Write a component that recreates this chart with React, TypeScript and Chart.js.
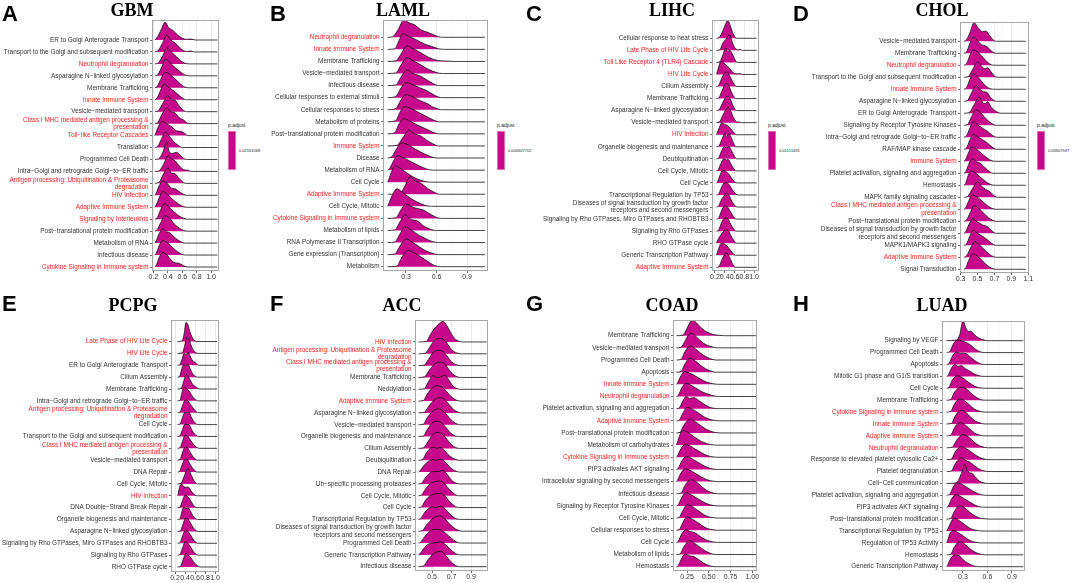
import React, { useEffect, useRef } from "react";
import { Chart, registerables } from "chart.js";
Chart.register(...registerables);

type Pt = [number, number];

// Terms printed in red in every panel
const immuneTerms = [
  "Neutrophil degranulation",
  "Innate Immune System",
  "Class I MHC mediated antigen processing &\npresentation",
  "Toll−like Receptor Cascades",
  "Antigen processing: Ubiquitination & Proteasome\ndegradation",
  "HIV Infection",
  "Adaptive Immune System",
  "Signaling by Interleukins",
  "Cytokine Signaling in Immune system",
  "Immune System",
  "Late Phase of HIV Life Cycle",
  "Toll Like Receptor 4 (TLR4) Cascade",
  "HIV Life Cycle",
];

// ---------------- A: GBM ----------------
const gbmTerms = [
  "ER to Golgi Anterograde Transport",
  "Transport to the Golgi and subsequent modification",
  "Neutrophil degranulation",
  "Asparagine N−linked glycosylation",
  "Membrane Trafficking",
  "Innate Immune System",
  "Vesicle−mediated transport",
  "Class I MHC mediated antigen processing &\npresentation",
  "Toll−like Receptor Cascades",
  "Translation",
  "Programmed Cell Death",
  "Intra−Golgi and retrograde Golgi−to−ER traffic",
  "Antigen processing: Ubiquitination & Proteasome\ndegradation",
  "HIV Infection",
  "Adaptive Immune System",
  "Signaling by Interleukins",
  "Post−translational protein modification",
  "Metabolism of RNA",
  "Infectious disease",
  "Cytokine Signaling in Immune system",
];
const gbmExtent = [0.22, 1.088];
const gbmTickLabels = ["0.2", "0.4", "0.6", "0.8", "1.0"];
const gbmPadj = "0.02101568";
const gbmRidges: Pt[][] = [
  [[0.26,0.3],[0.31,0.9],[0.36,1.5],[0.41,1.05],[0.47,0.8],[0.53,0.45],[0.6,0.15],[0.66,0.05],[0.72,0.08],[0.78,0]],
  [[0.27,0.15],[0.33,0.8],[0.385,1.4],[0.44,1.0],[0.5,0.75],[0.56,0.4],[0.62,0.1],[0.67,0.03],[0.72,0.08],[0.76,0]],
  [[0.27,0.1],[0.33,0.7],[0.385,1.35],[0.45,1.0],[0.52,0.6],[0.58,0.25],[0.64,0.05],[0.7,0]],
  [[0.26,0.1],[0.32,0.8],[0.37,1.4],[0.43,1.1],[0.5,0.7],[0.57,0.35],[0.63,0.1],[0.7,0]],
  [[0.25,0.1],[0.3,0.7],[0.36,1.3],[0.42,1.15],[0.5,0.75],[0.56,0.4],[0.62,0.1],[0.68,0]],
  [[0.25,0.15],[0.3,0.8],[0.345,1.3],[0.4,1.1],[0.47,0.8],[0.54,0.45],[0.6,0.15],[0.66,0]],
  [[0.27,0.1],[0.33,0.7],[0.4,1.35],[0.45,1.0],[0.5,0.95],[0.55,0.55],[0.6,0.2],[0.66,0]],
  [[0.26,0.1],[0.32,0.8],[0.38,1.3],[0.44,1.0],[0.5,0.9],[0.56,0.5],[0.62,0.3],[0.67,0.05],[0.72,0]],
  [[0.24,0.3],[0.28,0.9],[0.32,1.2],[0.38,1.0],[0.45,0.75],[0.52,0.4],[0.58,0.35],[0.63,0.2],[0.68,0]],
  [[0.26,0.1],[0.31,0.7],[0.37,1.3],[0.42,0.95],[0.48,0.5],[0.54,0.2],[0.6,0]],
  [[0.27,0.05],[0.33,0.6],[0.38,1.45],[0.42,0.65],[0.46,0.5],[0.52,0.6],[0.57,0.35],[0.63,0.05],[0.68,0]],
  [[0.28,0.05],[0.34,0.6],[0.4,1.3],[0.45,1.05],[0.5,0.9],[0.56,0.45],[0.62,0.15],[0.68,0.1],[0.72,0]],
  [[0.28,0.1],[0.34,0.8],[0.4,1.3],[0.45,0.85],[0.5,0.8],[0.55,0.45],[0.6,0.15],[0.65,0]],
  [[0.24,0.2],[0.28,0.8],[0.33,1.2],[0.39,1.0],[0.45,0.6],[0.5,0.55],[0.55,0.35],[0.61,0.1],[0.66,0]],
  [[0.24,0.2],[0.28,0.8],[0.33,1.3],[0.39,1.1],[0.46,0.7],[0.53,0.35],[0.6,0.1],[0.66,0]],
  [[0.25,0.1],[0.3,0.8],[0.35,1.3],[0.41,1.05],[0.48,0.65],[0.55,0.3],[0.62,0.08],[0.68,0]],
  [[0.25,0.1],[0.3,0.7],[0.36,1.3],[0.42,1.1],[0.49,0.6],[0.56,0.25],[0.62,0.05],[0.68,0]],
  [[0.24,0.2],[0.28,0.8],[0.33,1.2],[0.38,0.95],[0.43,0.85],[0.5,0.45],[0.57,0.15],[0.63,0]],
  [[0.24,0.15],[0.28,0.8],[0.33,1.2],[0.4,1.0],[0.47,0.6],[0.54,0.25],[0.6,0.05],[0.66,0]],
  [[0.24,0.15],[0.28,0.8],[0.33,1.2],[0.39,1.0],[0.45,0.55],[0.5,0.35],[0.56,0.3],[0.62,0.1],[0.68,0]],
];

// ---------------- B: LAML ----------------
const lamlTerms = [
  "Neutrophil degranulation",
  "Innate Immune System",
  "Membrane Trafficking",
  "Vesicle−mediated transport",
  "Infectious disease",
  "Cellular responses to external stimuli",
  "Cellular responses to stress",
  "Metabolism of proteins",
  "Post−translational protein modification",
  "Immune System",
  "Disease",
  "Metabolism of RNA",
  "Cell Cycle",
  "Adaptive Immune System",
  "Cell Cycle, Mitotic",
  "Cytokine Signaling in Immune system",
  "Metabolism of lipids",
  "RNA Polymerase II Transcription",
  "Gene expression (Transcription)",
  "Metabolism",
];
const lamlExtent = [0.12, 1.076];
const lamlTickLabels = ["0.3", "0.6", "0.9"];
const lamlPadj = "0.006607702";
const lamlRidges: Pt[][] = [
  [[0.17,0.05],[0.22,0.6],[0.28,1.45],[0.33,1.2],[0.38,1.05],[0.45,0.6],[0.5,0.45],[0.56,0.25],[0.62,0.05],[0.66,0]],
  [[0.19,0.05],[0.23,0.7],[0.27,1.3],[0.32,1.1],[0.4,0.8],[0.48,0.45],[0.55,0.25],[0.62,0.05],[0.68,0]],
  [[0.2,0.05],[0.25,0.6],[0.31,1.3],[0.37,1.05],[0.45,0.7],[0.52,0.35],[0.6,0.1],[0.7,0.03],[0.78,0]],
  [[0.2,0.05],[0.25,0.7],[0.31,1.3],[0.37,1.05],[0.45,0.7],[0.52,0.35],[0.6,0.08],[0.66,0]],
  [[0.2,0.05],[0.25,0.7],[0.31,1.3],[0.37,1.0],[0.44,0.8],[0.5,0.5],[0.56,0.2],[0.62,0]],
  [[0.2,0.1],[0.25,0.8],[0.3,1.25],[0.36,1.1],[0.44,0.8],[0.5,0.6],[0.56,0.3],[0.62,0.05],[0.66,0]],
  [[0.2,0.1],[0.25,0.8],[0.3,1.25],[0.36,1.1],[0.44,0.75],[0.5,0.55],[0.56,0.25],[0.62,0.05],[0.66,0]],
  [[0.2,0.1],[0.24,0.8],[0.29,1.25],[0.35,1.1],[0.43,0.75],[0.5,0.45],[0.57,0.15],[0.63,0]],
  [[0.19,0.1],[0.23,0.8],[0.28,1.25],[0.34,1.05],[0.42,0.7],[0.5,0.4],[0.57,0.12],[0.63,0]],
  [[0.21,0.05],[0.27,0.7],[0.33,1.3],[0.38,1.0],[0.44,0.85],[0.5,0.5],[0.56,0.2],[0.62,0]],
  [[0.16,0.1],[0.21,0.8],[0.26,1.25],[0.32,1.1],[0.4,0.7],[0.48,0.35],[0.55,0.1],[0.6,0]],
  [[0.14,0.15],[0.18,0.8],[0.22,1.2],[0.28,1.0],[0.35,0.7],[0.42,0.4],[0.5,0.1],[0.56,0]],
  [[0.13,0.2],[0.16,0.9],[0.2,1.35],[0.26,1.05],[0.33,0.65],[0.4,0.3],[0.48,0.08],[0.54,0]],
  [[0.24,0.05],[0.29,0.7],[0.34,1.45],[0.39,1.1],[0.45,0.9],[0.51,0.5],[0.57,0.2],[0.63,0]],
  [[0.13,0.2],[0.17,1.0],[0.21,1.45],[0.26,1.2],[0.33,0.75],[0.4,0.4],[0.48,0.1],[0.55,0]],
  [[0.2,0.05],[0.25,0.7],[0.3,1.2],[0.36,0.95],[0.42,0.8],[0.47,0.7],[0.53,0.4],[0.6,0.08],[0.65,0]],
  [[0.19,0.05],[0.24,0.7],[0.29,1.3],[0.35,0.9],[0.41,0.8],[0.47,0.4],[0.54,0.1],[0.6,0]],
  [[0.19,0.05],[0.24,0.7],[0.29,1.3],[0.35,1.05],[0.42,0.65],[0.5,0.3],[0.56,0.08],[0.62,0]],
  [[0.19,0.05],[0.24,0.7],[0.3,1.3],[0.36,1.05],[0.43,0.65],[0.5,0.3],[0.57,0.08],[0.62,0]],
  [[0.21,0.05],[0.26,0.8],[0.32,1.35],[0.38,1.15],[0.45,0.8],[0.52,0.4],[0.58,0.1],[0.64,0]],
];

// ---------------- C: LIHC ----------------
const lihcTerms = [
  "Cellular response to heat stress",
  "Late Phase of HIV Life Cycle",
  "Toll Like Receptor 4 (TLR4) Cascade",
  "HIV Life Cycle",
  "Cilium Assembly",
  "Membrane Trafficking",
  "Asparagine N−linked glycosylation",
  "Vesicle−mediated transport",
  "HIV Infection",
  "Organelle biogenesis and maintenance",
  "Deubiquitination",
  "Cell Cycle, Mitotic",
  "Cell Cycle",
  "Transcriptional Regulation by TP53",
  "Diseases of signal transduction by growth factor\nreceptors and second messengers",
  "Signaling by Rho GTPases, Miro GTPases and RHOBTB3",
  "Signaling by Rho GTPases",
  "RHO GTPase cycle",
  "Generic Transcription Pathway",
  "Adaptive Immune System",
];
const lihcExtent = [0.23, 1.05];
const lihcTickLabels = ["0.2", "0.4", "0.6", "0.8", "1.0"];
const lihcPadj = "0.01151691";
const lihcRidges: Pt[][] = [
  [[0.28,0.05],[0.36,0.6],[0.42,1.2],[0.46,1.5],[0.5,1.2],[0.55,0.6],[0.6,0.15],[0.65,0]],
  [[0.3,0.05],[0.36,0.6],[0.42,0.9],[0.49,1.3],[0.53,1.0],[0.57,0.5],[0.62,0.15],[0.68,0.05],[0.72,0.08],[0.76,0]],
  [[0.3,0.05],[0.36,0.6],[0.42,1.2],[0.46,0.9],[0.5,1.0],[0.55,0.75],[0.6,0.3],[0.65,0]],
  [[0.24,0.1],[0.28,0.7],[0.33,1.1],[0.38,0.95],[0.44,0.75],[0.5,0.5],[0.55,0.25],[0.6,0.08],[0.66,0.05],[0.72,0.06],[0.76,0]],
  [[0.27,0.05],[0.33,0.6],[0.4,1.15],[0.45,1.2],[0.5,0.9],[0.55,0.5],[0.6,0.15],[0.65,0]],
  [[0.28,0.05],[0.34,0.6],[0.43,1.25],[0.48,1.1],[0.53,0.6],[0.58,0.2],[0.63,0]],
  [[0.28,0.05],[0.35,0.6],[0.42,1.1],[0.46,1.2],[0.51,1.0],[0.56,0.5],[0.61,0.1],[0.66,0]],
  [[0.29,0.05],[0.36,0.6],[0.42,1.05],[0.47,1.25],[0.52,1.0],[0.57,0.5],[0.62,0.15],[0.66,0.05],[0.7,0.06],[0.74,0]],
  [[0.24,0.1],[0.29,0.6],[0.34,1.0],[0.4,0.85],[0.46,0.75],[0.52,0.5],[0.58,0.2],[0.64,0]],
  [[0.28,0.05],[0.34,0.6],[0.4,1.1],[0.44,0.85],[0.48,1.1],[0.53,0.8],[0.58,0.3],[0.63,0]],
  [[0.27,0.05],[0.33,0.6],[0.39,1.0],[0.44,0.95],[0.49,1.0],[0.54,0.65],[0.6,0.2],[0.65,0]],
  [[0.26,0.05],[0.32,0.6],[0.38,1.0],[0.43,0.9],[0.47,0.95],[0.53,0.55],[0.59,0.15],[0.64,0]],
  [[0.25,0.05],[0.3,0.6],[0.36,1.05],[0.42,0.95],[0.48,0.75],[0.54,0.4],[0.6,0.1],[0.65,0]],
  [[0.27,0.05],[0.33,0.6],[0.39,1.0],[0.45,1.0],[0.5,0.8],[0.56,0.4],[0.62,0.1],[0.67,0]],
  [[0.27,0.05],[0.33,0.6],[0.38,0.9],[0.43,1.15],[0.49,0.95],[0.55,0.45],[0.61,0.1],[0.66,0]],
  [[0.27,0.05],[0.33,0.65],[0.4,1.1],[0.46,1.0],[0.52,0.6],[0.58,0.2],[0.63,0]],
  [[0.27,0.05],[0.33,0.65],[0.4,1.1],[0.46,1.05],[0.52,0.6],[0.58,0.2],[0.63,0]],
  [[0.24,0.1],[0.29,0.5],[0.35,0.85],[0.42,1.1],[0.47,1.05],[0.53,0.6],[0.59,0.2],[0.64,0]],
  [[0.24,0.1],[0.28,0.6],[0.33,1.0],[0.38,0.95],[0.44,0.8],[0.5,0.5],[0.56,0.2],[0.62,0]],
  [[0.28,0.05],[0.35,0.7],[0.43,1.2],[0.48,1.0],[0.53,0.55],[0.58,0.15],[0.63,0]],
];

// ---------------- D: CHOL ----------------
const cholTerms = [
  "Vesicle−mediated transport",
  "Membrane Trafficking",
  "Neutrophil degranulation",
  "Transport to the Golgi and subsequent modification",
  "Innate Immune System",
  "Asparagine N−linked glycosylation",
  "ER to Golgi Anterograde Transport",
  "Signaling by Receptor Tyrosine Kinases",
  "Intra−Golgi and retrograde Golgi−to−ER traffic",
  "RAF/MAP kinase cascade",
  "Immune System",
  "Platelet activation, signaling and aggregation",
  "Hemostasis",
  "MAPK family signaling cascades",
  "Class I MHC mediated antigen processing &\npresentation",
  "Post−translational protein modification",
  "Diseases of signal transduction by growth factor\nreceptors and second messengers",
  "MAPK1/MAPK3 signaling",
  "Adaptive Immune System",
  "Signal Transduction",
];
const cholExtent = [0.34, 1.07];
const cholTickLabels = ["0.3", "0.5", "0.7", "0.9", "1.1"];
const cholPadj = "0.03607947";
const cholRidges: Pt[][] = [
  [[0.37,0.1],[0.41,0.7],[0.46,1.55],[0.51,1.1],[0.56,0.8],[0.6,0.85],[0.64,0.5],[0.68,0.15],[0.72,0]],
  [[0.37,0.1],[0.41,0.8],[0.45,1.35],[0.5,1.05],[0.55,0.7],[0.6,0.6],[0.64,0.35],[0.68,0.1],[0.72,0]],
  [[0.37,0.1],[0.41,0.8],[0.45,1.3],[0.5,1.1],[0.56,0.7],[0.61,0.3],[0.66,0.05],[0.7,0]],
  [[0.39,0.05],[0.44,0.6],[0.5,1.3],[0.55,0.9],[0.59,0.7],[0.62,0.8],[0.66,0.45],[0.7,0.1],[0.74,0]],
  [[0.37,0.1],[0.41,0.8],[0.45,1.3],[0.5,1.05],[0.55,0.65],[0.6,0.25],[0.65,0.05],[0.7,0]],
  [[0.38,0.05],[0.43,0.7],[0.48,1.3],[0.53,1.0],[0.57,0.8],[0.61,0.75],[0.65,0.35],[0.7,0.05],[0.74,0]],
  [[0.4,0.05],[0.46,0.7],[0.52,1.35],[0.56,0.9],[0.59,0.8],[0.62,0.95],[0.66,0.55],[0.7,0.25],[0.74,0.08],[0.78,0]],
  [[0.38,0.05],[0.43,0.7],[0.48,1.3],[0.53,1.1],[0.58,0.7],[0.63,0.35],[0.68,0.1],[0.72,0]],
  [[0.37,0.1],[0.41,0.75],[0.45,1.3],[0.5,1.05],[0.56,0.75],[0.61,0.55],[0.66,0.25],[0.7,0.05],[0.74,0]],
  [[0.37,0.1],[0.41,0.75],[0.45,1.25],[0.5,1.05],[0.56,0.8],[0.62,0.5],[0.67,0.2],[0.72,0]],
  [[0.36,0.15],[0.4,0.8],[0.43,1.2],[0.48,1.05],[0.54,0.7],[0.6,0.35],[0.65,0.1],[0.7,0]],
  [[0.36,0.1],[0.4,0.8],[0.44,1.2],[0.49,0.95],[0.54,0.8],[0.59,0.45],[0.64,0.15],[0.68,0]],
  [[0.36,0.15],[0.39,0.8],[0.43,1.2],[0.48,1.0],[0.54,0.65],[0.6,0.3],[0.65,0.08],[0.7,0]],
  [[0.38,0.05],[0.44,0.7],[0.5,1.3],[0.55,0.9],[0.6,0.65],[0.65,0.45],[0.7,0.1],[0.74,0]],
  [[0.36,0.1],[0.4,0.75],[0.44,1.2],[0.5,1.0],[0.56,0.65],[0.62,0.3],[0.67,0.08],[0.72,0]],
  [[0.37,0.1],[0.42,0.8],[0.46,1.3],[0.51,1.1],[0.57,0.7],[0.63,0.3],[0.68,0.08],[0.72,0]],
  [[0.36,0.1],[0.4,0.75],[0.44,1.2],[0.5,0.95],[0.56,0.7],[0.62,0.55],[0.67,0.2],[0.72,0]],
  [[0.37,0.1],[0.41,0.75],[0.45,1.25],[0.5,1.0],[0.56,0.75],[0.62,0.45],[0.67,0.15],[0.72,0]],
  [[0.37,0.1],[0.42,0.8],[0.47,1.3],[0.52,1.05],[0.58,0.65],[0.64,0.25],[0.69,0.05],[0.73,0]],
  [[0.36,0.1],[0.4,0.8],[0.45,1.3],[0.5,1.1],[0.56,0.7],[0.62,0.3],[0.67,0.08],[0.72,0]],
];

// ---------------- E: PCPG ----------------
const pcpgTerms = [
  "Late Phase of HIV Life Cycle",
  "HIV Life Cycle",
  "ER to Golgi Anterograde Transport",
  "Cilium Assembly",
  "Membrane Trafficking",
  "Intra−Golgi and retrograde Golgi−to−ER traffic",
  "Antigen processing: Ubiquitination & Proteasome\ndegradation",
  "Cell Cycle",
  "Transport to the Golgi and subsequent modification",
  "Class I MHC mediated antigen processing &\npresentation",
  "Vesicle−mediated transport",
  "DNA Repair",
  "Cell Cycle, Mitotic",
  "HIV Infection",
  "DNA Double−Strand Break Repair",
  "Organelle biogenesis and maintenance",
  "Asparagine N−linked glycosylation",
  "Signaling by Rho GTPases, Miro GTPases and RHOBTB3",
  "Signaling by Rho GTPases",
  "RHO GTPase cycle",
];
const pcpgExtent = [0.25, 1.04];
const pcpgTickLabels = ["0.2", "0.4", "0.6", "0.8", "1.0"];
const pcpgPadj = "0.02993776";
const pcpgRidges: Pt[][] = [
  [[0.34,0.05],[0.38,0.6],[0.42,1.6],[0.46,1.4],[0.5,0.8],[0.55,0.3],[0.6,0.05],[0.64,0]],
  [[0.35,0.05],[0.39,0.6],[0.44,1.4],[0.48,1.2],[0.52,0.7],[0.57,0.25],[0.62,0.05],[0.66,0]],
  [[0.3,0.05],[0.34,0.5],[0.38,1.0],[0.42,0.85],[0.46,1.1],[0.5,0.8],[0.55,0.4],[0.6,0.25],[0.65,0.05],[0.7,0]],
  [[0.29,0.05],[0.33,0.6],[0.37,1.05],[0.42,0.95],[0.46,1.1],[0.5,0.75],[0.55,0.3],[0.6,0.08],[0.65,0]],
  [[0.32,0.05],[0.37,0.6],[0.42,1.2],[0.46,1.1],[0.51,0.7],[0.56,0.35],[0.61,0.2],[0.66,0.05],[0.7,0]],
  [[0.3,0.05],[0.34,0.7],[0.38,1.15],[0.43,1.0],[0.48,0.85],[0.53,0.5],[0.58,0.2],[0.63,0.05],[0.67,0]],
  [[0.3,0.05],[0.35,0.6],[0.41,1.1],[0.46,1.0],[0.51,0.7],[0.56,0.4],[0.61,0.15],[0.66,0]],
  [[0.3,0.05],[0.35,0.6],[0.4,1.05],[0.44,0.95],[0.48,1.05],[0.52,0.7],[0.57,0.3],[0.62,0.08],[0.66,0]],
  [[0.3,0.05],[0.35,0.6],[0.4,1.05],[0.44,1.0],[0.48,1.0],[0.53,0.6],[0.58,0.25],[0.63,0.08],[0.67,0]],
  [[0.3,0.05],[0.35,0.6],[0.4,1.1],[0.45,1.05],[0.5,0.75],[0.55,0.45],[0.6,0.2],[0.65,0.05],[0.68,0]],
  [[0.3,0.05],[0.35,0.65],[0.4,1.1],[0.45,1.05],[0.5,0.7],[0.55,0.35],[0.6,0.12],[0.65,0]],
  [[0.29,0.05],[0.34,0.6],[0.39,1.05],[0.44,1.1],[0.49,0.75],[0.54,0.4],[0.59,0.15],[0.64,0]],
  [[0.32,0.05],[0.37,0.5],[0.42,1.05],[0.46,1.3],[0.5,1.0],[0.55,0.5],[0.6,0.15],[0.65,0]],
  [[0.26,0.1],[0.29,0.7],[0.33,1.0],[0.37,0.8],[0.42,0.7],[0.46,0.75],[0.5,0.55],[0.55,0.25],[0.6,0.05],[0.64,0]],
  [[0.3,0.05],[0.35,0.6],[0.4,1.05],[0.44,1.0],[0.49,0.75],[0.54,0.4],[0.59,0.1],[0.64,0]],
  [[0.3,0.05],[0.34,0.7],[0.38,1.05],[0.42,0.9],[0.46,1.0],[0.51,0.7],[0.56,0.3],[0.61,0.08],[0.65,0]],
  [[0.31,0.05],[0.36,0.6],[0.41,1.1],[0.46,1.05],[0.51,0.7],[0.56,0.35],[0.61,0.1],[0.66,0]],
  [[0.3,0.05],[0.35,0.6],[0.41,1.1],[0.46,1.0],[0.51,0.7],[0.56,0.35],[0.61,0.1],[0.66,0]],
  [[0.3,0.05],[0.35,0.6],[0.41,1.15],[0.46,1.0],[0.51,0.7],[0.56,0.35],[0.61,0.1],[0.66,0]],
  [[0.31,0.05],[0.36,0.6],[0.42,1.15],[0.47,1.0],[0.52,0.75],[0.57,0.45],[0.62,0.2],[0.67,0.05],[0.7,0]],
];

// ---------------- F: ACC ----------------
const accTerms = [
  "HIV Infection",
  "Antigen processing: Ubiquitination & Proteasome\ndegradation",
  "Class I MHC mediated antigen processing &\npresentation",
  "Membrane Trafficking",
  "Neddylation",
  "Adaptive Immune System",
  "Asparagine N−linked glycosylation",
  "Vesicle−mediated transport",
  "Organelle biogenesis and maintenance",
  "Cilium Assembly",
  "Deubiquitination",
  "DNA Repair",
  "Ub−specific processing proteases",
  "Cell Cycle, Mitotic",
  "Cell Cycle",
  "Transcriptional Regulation by TP53",
  "Diseases of signal transduction by growth factor\nreceptors and second messengers",
  "Programmed Cell Death",
  "Generic Transcription Pathway",
  "Infectious disease",
];
const accExtent = [0.36, 1.06];
const accTickLabels = ["0.5", "0.7", "0.9"];
const accPadj = "0.01066218";
const accRidges: Pt[][] = [
  [[0.44,0.05],[0.48,0.6],[0.53,1.2],[0.58,1.6],[0.61,1.75],[0.65,1.4],[0.69,0.8],[0.73,0.3],[0.78,0.05],[0.82,0]],
  [[0.43,0.05],[0.47,0.5],[0.52,1.1],[0.57,1.3],[0.62,1.2],[0.66,0.8],[0.7,0.35],[0.75,0.08],[0.8,0]],
  [[0.42,0.05],[0.46,0.5],[0.51,1.1],[0.56,1.3],[0.61,1.2],[0.65,0.85],[0.69,0.4],[0.74,0.1],[0.79,0]],
  [[0.42,0.05],[0.47,0.6],[0.52,1.1],[0.58,1.3],[0.63,1.15],[0.67,0.7],[0.71,0.3],[0.76,0.05],[0.8,0]],
  [[0.42,0.05],[0.46,0.6],[0.51,1.15],[0.55,1.0],[0.59,1.05],[0.63,1.2],[0.67,0.8],[0.71,0.3],[0.76,0.05],[0.8,0]],
  [[0.41,0.05],[0.45,0.6],[0.5,1.1],[0.55,1.3],[0.6,1.2],[0.65,0.8],[0.7,0.35],[0.75,0.08],[0.8,0]],
  [[0.42,0.05],[0.46,0.5],[0.51,1.0],[0.57,1.3],[0.62,1.2],[0.67,0.75],[0.72,0.3],[0.77,0.05],[0.8,0]],
  [[0.41,0.05],[0.45,0.6],[0.5,1.1],[0.56,1.35],[0.61,1.2],[0.66,0.75],[0.71,0.3],[0.76,0.05],[0.8,0]],
  [[0.41,0.05],[0.45,0.6],[0.5,1.15],[0.54,1.3],[0.59,1.2],[0.64,0.8],[0.69,0.3],[0.74,0.05],[0.78,0]],
  [[0.41,0.05],[0.46,0.6],[0.51,1.2],[0.55,1.35],[0.6,1.25],[0.65,0.8],[0.7,0.3],[0.75,0.05],[0.79,0]],
  [[0.4,0.05],[0.44,0.6],[0.48,1.0],[0.52,1.1],[0.55,1.0],[0.58,1.1],[0.63,0.8],[0.68,0.35],[0.73,0.1],[0.78,0]],
  [[0.37,0.05],[0.41,0.5],[0.46,0.9],[0.51,1.05],[0.55,1.0],[0.59,1.1],[0.64,0.8],[0.69,0.35],[0.74,0.1],[0.78,0]],
  [[0.39,0.05],[0.43,0.5],[0.48,0.95],[0.53,1.05],[0.57,1.05],[0.61,1.15],[0.66,0.75],[0.7,0.3],[0.75,0.05],[0.79,0]],
  [[0.39,0.05],[0.43,0.55],[0.48,1.0],[0.53,1.2],[0.58,1.25],[0.63,1.0],[0.68,0.5],[0.73,0.15],[0.77,0]],
  [[0.39,0.05],[0.43,0.6],[0.48,1.0],[0.53,1.15],[0.58,1.2],[0.63,1.0],[0.68,0.5],[0.73,0.15],[0.77,0]],
  [[0.38,0.05],[0.42,0.55],[0.46,0.9],[0.5,1.05],[0.54,1.0],[0.58,1.1],[0.62,1.0],[0.66,0.65],[0.7,0.3],[0.75,0.05],[0.79,0]],
  [[0.4,0.05],[0.44,0.5],[0.49,0.95],[0.53,1.2],[0.58,1.3],[0.63,1.05],[0.68,0.6],[0.73,0.25],[0.78,0.05],[0.82,0]],
  [[0.38,0.05],[0.42,0.5],[0.47,0.95],[0.52,1.15],[0.57,1.15],[0.62,0.95],[0.67,0.6],[0.72,0.25],[0.76,0.05],[0.8,0]],
  [[0.37,0.05],[0.41,0.5],[0.46,0.9],[0.51,1.0],[0.55,1.05],[0.59,1.1],[0.64,0.85],[0.69,0.45],[0.74,0.12],[0.78,0]],
  [[0.41,0.05],[0.45,0.5],[0.5,1.0],[0.55,1.25],[0.59,1.3],[0.64,0.95],[0.69,0.45],[0.74,0.1],[0.78,0]],
];

// ---------------- G: COAD ----------------
const coadTerms = [
  "Membrane Trafficking",
  "Vesicle−mediated transport",
  "Programmed Cell Death",
  "Apoptosis",
  "Innate Immune System",
  "Neutrophil degranulation",
  "Platelet activation, signaling and aggregation",
  "Adaptive Immune System",
  "Post−translational protein modification",
  "Metabolism of carbohydrates",
  "Cytokine Signaling in Immune system",
  "PIP3 activates AKT signaling",
  "Intracellular signaling by second messengers",
  "Infectious disease",
  "Signaling by Receptor Tyrosine Kinases",
  "Cell Cycle, Mitotic",
  "Cellular responses to stress",
  "Cell Cycle",
  "Metabolism of lipids",
  "Hemostasis",
];
const coadExtent = [0.13, 1.046];
const coadTickLabels = ["0.25", "0.50", "0.75", "1.00"];
const coadPadj = "0.00565661";
const coadRidges: Pt[][] = [
  [[0.2,0.05],[0.25,0.6],[0.29,1.15],[0.32,1.25],[0.36,1.05],[0.42,0.6],[0.48,0.3],[0.55,0.1],[0.62,0.03],[0.68,0]],
  [[0.18,0.05],[0.23,0.6],[0.27,1.1],[0.3,1.2],[0.35,0.95],[0.41,0.55],[0.47,0.25],[0.54,0.08],[0.6,0]],
  [[0.18,0.05],[0.22,0.6],[0.26,1.05],[0.29,1.15],[0.34,0.95],[0.4,0.6],[0.46,0.3],[0.52,0.1],[0.58,0]],
  [[0.18,0.05],[0.22,0.6],[0.26,1.05],[0.29,1.15],[0.34,0.95],[0.4,0.6],[0.46,0.3],[0.52,0.1],[0.58,0]],
  [[0.14,0.1],[0.18,0.7],[0.22,1.05],[0.27,0.95],[0.33,0.75],[0.4,0.45],[0.47,0.2],[0.55,0.05],[0.62,0]],
  [[0.15,0.1],[0.19,0.7],[0.24,1.1],[0.29,0.95],[0.35,0.7],[0.42,0.4],[0.49,0.2],[0.56,0.05],[0.62,0]],
  [[0.16,0.05],[0.2,0.6],[0.24,1.0],[0.28,0.85],[0.33,0.9],[0.38,0.7],[0.44,0.4],[0.5,0.15],[0.56,0.03],[0.62,0]],
  [[0.16,0.05],[0.2,0.6],[0.25,1.1],[0.3,1.0],[0.36,0.75],[0.42,0.45],[0.48,0.2],[0.55,0.05],[0.62,0]],
  [[0.17,0.05],[0.21,0.6],[0.26,1.05],[0.29,1.15],[0.34,0.95],[0.4,0.65],[0.46,0.35],[0.52,0.15],[0.58,0.03],[0.64,0]],
  [[0.13,0.1],[0.16,0.7],[0.2,1.2],[0.25,1.1],[0.31,0.8],[0.38,0.45],[0.45,0.2],[0.52,0.05],[0.58,0]],
  [[0.14,0.1],[0.18,0.7],[0.23,1.05],[0.28,0.95],[0.34,0.7],[0.41,0.4],[0.48,0.15],[0.55,0.03],[0.62,0]],
  [[0.15,0.1],[0.19,0.7],[0.24,1.05],[0.29,0.95],[0.35,0.7],[0.42,0.4],[0.49,0.15],[0.55,0.03],[0.62,0]],
  [[0.14,0.1],[0.18,0.7],[0.23,1.05],[0.28,0.95],[0.34,0.7],[0.41,0.4],[0.48,0.15],[0.55,0.03],[0.62,0]],
  [[0.18,0.05],[0.22,0.6],[0.26,1.0],[0.3,1.15],[0.35,1.0],[0.41,0.65],[0.47,0.3],[0.53,0.1],[0.6,0]],
  [[0.15,0.1],[0.19,0.7],[0.24,1.1],[0.29,0.95],[0.35,0.7],[0.42,0.4],[0.49,0.15],[0.56,0.03],[0.62,0]],
  [[0.16,0.05],[0.2,0.6],[0.25,1.1],[0.3,1.0],[0.36,0.7],[0.42,0.4],[0.48,0.15],[0.55,0.03],[0.62,0]],
  [[0.16,0.05],[0.2,0.6],[0.25,1.1],[0.3,0.95],[0.36,0.7],[0.42,0.4],[0.48,0.15],[0.54,0.05],[0.6,0]],
  [[0.15,0.1],[0.19,0.7],[0.24,1.05],[0.28,0.9],[0.34,0.8],[0.4,0.5],[0.47,0.2],[0.54,0.05],[0.6,0]],
  [[0.17,0.05],[0.21,0.6],[0.25,1.0],[0.28,1.15],[0.33,0.95],[0.39,0.65],[0.45,0.35],[0.51,0.12],[0.58,0]],
  [[0.15,0.1],[0.19,0.7],[0.23,1.05],[0.27,0.9],[0.32,0.85],[0.38,0.6],[0.44,0.3],[0.5,0.1],[0.56,0]],
];

// ---------------- H: LUAD ----------------
const luadTerms = [
  "Signaling by VEGF",
  "Programmed Cell Death",
  "Apoptosis",
  "Mitotic G1 phase and G1/S transition",
  "Cell Cycle",
  "Membrane Trafficking",
  "Cytokine Signaling in Immune system",
  "Innate Immune System",
  "Adaptive Immune System",
  "Neutrophil degranulation",
  "Response to elevated platelet cytosolic Ca2+",
  "Platelet degranulation",
  "Cell−Cell communication",
  "Platelet activation, signaling and aggregation",
  "PIP3 activates AKT signaling",
  "Post−translational protein modification",
  "Transcriptional Regulation by TP53",
  "Regulation of TP53 Activity",
  "Hemostasis",
  "Generic Transcription Pathway",
];
const luadExtent = [0.1, 1.04];
const luadTickLabels = ["0.3", "0.6", "0.9"];
const luadPadj = "0.005347311";
const luadRidges: Pt[][] = [
  [[0.22,0.05],[0.26,0.5],[0.3,1.65],[0.34,1.0],[0.37,0.75],[0.4,0.8],[0.44,0.5],[0.5,0.2],[0.56,0.05],[0.6,0]],
  [[0.14,0.1],[0.18,0.7],[0.23,1.05],[0.28,1.0],[0.34,0.85],[0.4,0.6],[0.45,0.3],[0.5,0.1],[0.56,0]],
  [[0.13,0.1],[0.17,0.7],[0.22,1.05],[0.26,0.95],[0.32,0.95],[0.38,0.7],[0.44,0.35],[0.5,0.1],[0.56,0]],
  [[0.12,0.1],[0.16,0.7],[0.2,1.0],[0.24,0.85],[0.28,0.9],[0.33,0.65],[0.38,0.45],[0.44,0.2],[0.5,0.05],[0.56,0]],
  [[0.13,0.1],[0.17,0.7],[0.23,1.05],[0.28,0.95],[0.34,0.65],[0.4,0.35],[0.46,0.12],[0.52,0.03],[0.58,0]],
  [[0.15,0.05],[0.19,0.6],[0.24,1.0],[0.28,1.1],[0.33,1.0],[0.39,0.65],[0.45,0.3],[0.5,0.1],[0.56,0]],
  [[0.15,0.05],[0.19,0.6],[0.23,1.0],[0.27,1.1],[0.32,0.95],[0.38,0.6],[0.44,0.25],[0.5,0.08],[0.56,0]],
  [[0.16,0.05],[0.2,0.6],[0.24,1.0],[0.28,1.15],[0.33,1.0],[0.39,0.6],[0.45,0.25],[0.51,0.08],[0.57,0]],
  [[0.15,0.05],[0.19,0.6],[0.23,1.0],[0.27,1.1],[0.32,0.95],[0.38,0.6],[0.44,0.25],[0.5,0.08],[0.56,0]],
  [[0.17,0.05],[0.21,0.5],[0.26,0.95],[0.3,1.1],[0.35,1.0],[0.41,0.65],[0.47,0.3],[0.53,0.1],[0.6,0]],
  [[0.16,0.05],[0.2,0.6],[0.24,0.95],[0.28,1.1],[0.33,0.95],[0.38,0.75],[0.44,0.45],[0.5,0.2],[0.56,0.05],[0.62,0]],
  [[0.16,0.05],[0.2,0.6],[0.24,0.95],[0.28,1.15],[0.33,0.95],[0.38,0.8],[0.44,0.5],[0.5,0.2],[0.56,0.05],[0.62,0]],
  [[0.22,0.05],[0.26,0.5],[0.3,1.2],[0.32,1.6],[0.35,1.1],[0.38,0.9],[0.41,0.85],[0.45,0.55],[0.5,0.2],[0.55,0.05],[0.6,0]],
  [[0.14,0.1],[0.18,0.7],[0.23,1.05],[0.28,0.95],[0.33,0.75],[0.39,0.5],[0.45,0.25],[0.51,0.08],[0.58,0]],
  [[0.12,0.1],[0.16,0.7],[0.21,1.05],[0.26,0.95],[0.32,0.7],[0.38,0.45],[0.44,0.2],[0.5,0.05],[0.56,0]],
  [[0.15,0.05],[0.19,0.6],[0.23,1.0],[0.27,1.1],[0.32,0.95],[0.38,0.6],[0.44,0.3],[0.5,0.1],[0.56,0.03],[0.62,0]],
  [[0.11,0.1],[0.15,0.7],[0.19,1.1],[0.24,0.95],[0.29,0.7],[0.35,0.4],[0.41,0.15],[0.47,0.05],[0.53,0]],
  [[0.11,0.15],[0.14,0.8],[0.19,1.05],[0.24,0.85],[0.29,0.65],[0.35,0.35],[0.4,0.15],[0.46,0.05],[0.52,0]],
  [[0.15,0.05],[0.19,0.6],[0.23,1.0],[0.27,1.1],[0.32,0.9],[0.38,0.55],[0.44,0.25],[0.5,0.08],[0.56,0]],
  [[0.11,0.1],[0.15,0.7],[0.2,1.0],[0.25,0.95],[0.3,0.6],[0.36,0.3],[0.42,0.1],[0.48,0]],
];

// ---------------- styling / layout ----------------
const FILL = "#C7088C";
const RED = "#FF2222";
const DARK = "#333333";
const SANS = "'Liberation Sans', Arial, Helvetica, sans-serif";
const SERIF = "'Liberation Serif', 'Times New Roman', serif";

type Layout = {
  x0: number; boxLeft: number; boxRight: number; boxTop: number; boxBottom: number;
  firstRow: number; lastRow: number; xMin: number; xMax: number;
  titleX: number; letterX: number; legendX: number; rowTop: number;
};
type Panel = {
  letter: string; title: string; terms: string[]; ridges: Pt[][]; extent: number[];
  tickLabels: string[]; padj: string; layout: Layout;
};

const panels: Panel[] = [
  { letter: "A", title: "GBM", terms: gbmTerms, ridges: gbmRidges, extent: gbmExtent, tickLabels: gbmTickLabels, padj: gbmPadj,
    layout: { x0: 0, boxLeft: 152, boxRight: 219, boxTop: 20, boxBottom: 271, firstRow: 40, lastRow: 267, xMin: 0.18, xMax: 1.11, titleX: 132, letterX: 2, legendX: 228, rowTop: 0 } },
  { letter: "B", title: "LAML", terms: lamlTerms, ridges: lamlRidges, extent: lamlExtent, tickLabels: lamlTickLabels, padj: lamlPadj,
    layout: { x0: 268, boxLeft: 383, boxRight: 488, boxTop: 20, boxBottom: 271, firstRow: 37.3, lastRow: 266.7, xMin: 0.074, xMax: 1.106, titleX: 403, letterX: 270, legendX: 497, rowTop: 0 } },
  { letter: "C", title: "LIHC", terms: lihcTerms, ridges: lihcRidges, extent: lihcExtent, tickLabels: lihcTickLabels, padj: lihcPadj,
    layout: { x0: 536, boxLeft: 712, boxRight: 759, boxTop: 20, boxBottom: 271, firstRow: 38.3, lastRow: 267.3, xMin: 0.14, xMax: 1.1, titleX: 672, letterX: 526, legendX: 768, rowTop: 0 } },
  { letter: "D", title: "CHOL", terms: cholTerms, ridges: cholRidges, extent: cholExtent, tickLabels: cholTickLabels, padj: cholPadj,
    layout: { x0: 804, boxLeft: 960, boxRight: 1029, boxTop: 21.5, boxBottom: 272, firstRow: 40.7, lastRow: 268.3, xMin: 0.294, xMax: 1.108, titleX: 942, letterX: 793, legendX: 1037, rowTop: 0 } },
  { letter: "E", title: "PCPG", terms: pcpgTerms, ridges: pcpgRidges, extent: pcpgExtent, tickLabels: pcpgTickLabels, padj: pcpgPadj,
    layout: { x0: 0, boxLeft: 171, boxRight: 219, boxTop: 319.5, boxBottom: 571, firstRow: 341, lastRow: 566, xMin: 0.12, xMax: 1.08, titleX: 133, letterX: 2, legendX: 229, rowTop: 290 } },
  { letter: "F", title: "ACC", terms: accTerms, ridges: accRidges, extent: accExtent, tickLabels: accTickLabels, padj: accPadj,
    layout: { x0: 268, boxLeft: 415, boxRight: 488, boxTop: 319.7, boxBottom: 571, firstRow: 341.7, lastRow: 566.7, xMin: 0.324, xMax: 1.074, titleX: 402, letterX: 270, legendX: 498, rowTop: 290 } },
  { letter: "G", title: "COAD", terms: coadTerms, ridges: coadRidges, extent: coadExtent, tickLabels: coadTickLabels, padj: coadPadj,
    layout: { x0: 536, boxLeft: 673, boxRight: 757, boxTop: 320, boxBottom: 571, firstRow: 335.7, lastRow: 566.7, xMin: 0.089, xMax: 1.054, titleX: 672, letterX: 526, legendX: 768, rowTop: 290 } },
  { letter: "H", title: "LUAD", terms: luadTerms, ridges: luadRidges, extent: luadExtent, tickLabels: luadTickLabels, padj: luadPadj,
    layout: { x0: 804, boxLeft: 942, boxRight: 1025, boxTop: 321, boxBottom: 571, firstRow: 340.7, lastRow: 566.7, xMin: 0.043, xMax: 1.06, titleX: 942, letterX: 793, legendX: 1036, rowTop: 290 } },
];

const PAD_TOP = 6;
const PAD_RIGHT = 8;
const XAXIS_H = 14;

const boxPlugin = {
  id: "panelBox",
  afterDraw(chart: any) {
    const { ctx, chartArea: a } = chart;
    ctx.save();
    ctx.strokeStyle = "#A8A8A8";
    ctx.lineWidth = 1;
    ctx.strokeRect(Math.round(a.left) + 0.5, Math.round(a.top) + 0.5, Math.round(a.right - a.left) - 1, Math.round(a.bottom - a.top) - 1);
    ctx.restore();
  },
};

function RidgeChart({ p }: { p: Panel }) {
  const ref = useRef<HTMLCanvasElement | null>(null);
  const L = p.layout;
  const left = L.x0;
  const top = L.boxTop - PAD_TOP;
  const width = Math.round(L.boxRight + PAD_RIGHT - L.x0);
  const height = Math.round(L.boxBottom - L.boxTop + PAD_TOP + XAXIS_H);

  useEffect(() => {
    const n = p.terms.length;
    const unit = (L.lastRow - L.firstRow) / (n - 1);
    const yMax = n - 1 + (L.firstRow - L.boxTop) / unit;
    const yMin = -(L.boxBottom - L.lastRow) / unit;

    const datasets = p.ridges.map((pts, i) => {
      const base = n - 1 - i;
      const data = [
        { x: p.extent[0], y: base },
        ...pts.map(([x, h]) => ({ x, y: base + h })),
        { x: p.extent[1], y: base },
      ];
      return {
        data,
        order: base,
        borderColor: "#141414",
        borderWidth: 0.8,
        backgroundColor: FILL,
        fill: { value: base },
        pointRadius: 0,
        cubicInterpolationMode: "monotone",
      };
    });

    const majors = p.tickLabels.map((s) => ({ value: Number(s), label: s, major: true }));
    const step = majors.length > 1 ? majors[1].value - majors[0].value : 0.2;
    const minors: { value: number; label: string; major: boolean }[] = [];
    const cand = [majors[0].value - step / 2];
    for (let k = 0; k < majors.length; k++) cand.push(majors[k].value + step / 2);
    cand.forEach((v) => { if (v >= L.xMin && v <= L.xMax) minors.push({ value: v, label: "", major: false }); });
    const xDefs = [...majors, ...minors].sort((a, b) => a.value - b.value);
    const rows = p.terms.map((_, i) => n - 1 - i).reverse();

    const termAt = (v: number) => p.terms[n - 1 - Math.round(v)] || "";

    const chart = new Chart(ref.current as HTMLCanvasElement, {
      type: "line",
      data: { datasets: datasets as any },
      plugins: [boxPlugin],
      options: {
        animation: false,
        responsive: false,
        maintainAspectRatio: false,
        events: [],
        layout: { padding: { top: PAD_TOP, right: PAD_RIGHT, left: 0, bottom: 0 } },
        plugins: { legend: { display: false }, tooltip: { enabled: false }, title: { display: false } },
        scales: {
          x: {
            type: "linear",
            min: L.xMin,
            max: L.xMax,
            afterBuildTicks: (s: any) => { s.ticks = xDefs.map((d) => ({ value: d.value })); },
            afterFit: (s: any) => { s.height = XAXIS_H; },
            border: { display: false },
            grid: {
              color: (c: any) => (xDefs[c.index] && xDefs[c.index].major ? "#E4E4E4" : "#F1F1F1"),
              lineWidth: (c: any) => (xDefs[c.index] && xDefs[c.index].major ? 0.8 : 0.5),
              tickLength: 2,
              tickColor: (c: any) => (xDefs[c.index] && xDefs[c.index].major ? "#444" : "rgba(0,0,0,0)"),
            },
            ticks: {
              autoSkip: false,
              maxRotation: 0,
              minRotation: 0,
              padding: 0,
              color: DARK,
              font: { family: SANS, size: 7 },
              callback: (_v: any, i: number) => (xDefs[i] ? xDefs[i].label : ""),
            },
          },
          y: {
            type: "linear",
            min: yMin,
            max: yMax,
            afterBuildTicks: (s: any) => { s.ticks = rows.map((v) => ({ value: v })); },
            afterFit: (s: any) => { s.width = L.boxLeft - L.x0; },
            border: { display: false },
            grid: { drawOnChartArea: false, drawTicks: true, tickLength: 2, tickColor: "#444", tickWidth: 0.8 },
            ticks: {
              autoSkip: false,
              padding: 1.5,
              font: { family: SANS, size: 6.4, lineHeight: 1.12 },
              color: (c: any) => (immuneTerms.includes(termAt(c.tick ? c.tick.value : 0)) ? RED : DARK),
              callback: (v: any) => {
                const t = termAt(Number(v));
                return t.includes("\n") ? t.split("\n") : t;
              },
            },
          },
        },
      } as any,
    });
    return () => chart.destroy();
  }, []);

  return (
    <canvas
      ref={ref}
      width={width}
      height={height}
      style={{ position: "absolute", left, top, width, height }}
    />
  );
}

function PanelDecor({ p }: { p: Panel }) {
  const L = p.layout;
  const legTop = L.rowTop + (L.rowTop === 0 ? 122 : 422);
  return (
    <>
      <div style={{ position: "absolute", left: L.letterX, top: L.rowTop + 3, font: `bold 22px ${SANS}`, lineHeight: "22px", color: "#000" }}>
        {p.letter}
      </div>
      <div style={{ position: "absolute", left: L.titleX - 60, width: 120, textAlign: "center", top: L.rowTop + (L.rowTop === 0 ? 0.5 : 6), font: `bold 18px ${SERIF}`, lineHeight: "18px", color: "#000" }}>
        {p.title}
      </div>
      <div style={{ position: "absolute", left: L.legendX, top: legTop, font: `5px ${SANS}`, lineHeight: "6px", color: "#222", whiteSpace: "nowrap" }}>
        p.adjust
      </div>
      <div style={{ position: "absolute", left: L.legendX, top: legTop + 9, width: 8, height: 39, background: FILL, boxSizing: "border-box", border: "1px solid #E46AB8" }} />
      <div style={{ position: "absolute", left: L.legendX + 11, top: legTop + 26, font: `4px ${SANS}`, lineHeight: "5px", color: "#222", whiteSpace: "nowrap" }}>
        {p.padj}
      </div>
    </>
  );
}

export default function App() {
  useEffect(() => {
    document.body.style.margin = "0";
  }, []);
  return (
    <div style={{ position: "absolute", left: 0, top: 0, width: 1072, height: 583, background: "#fff", overflow: "hidden" }}>
      {panels.map((p) => (
        <React.Fragment key={p.letter}>
          <RidgeChart p={p} />
          <PanelDecor p={p} />
        </React.Fragment>
      ))}
    </div>
  );
}
